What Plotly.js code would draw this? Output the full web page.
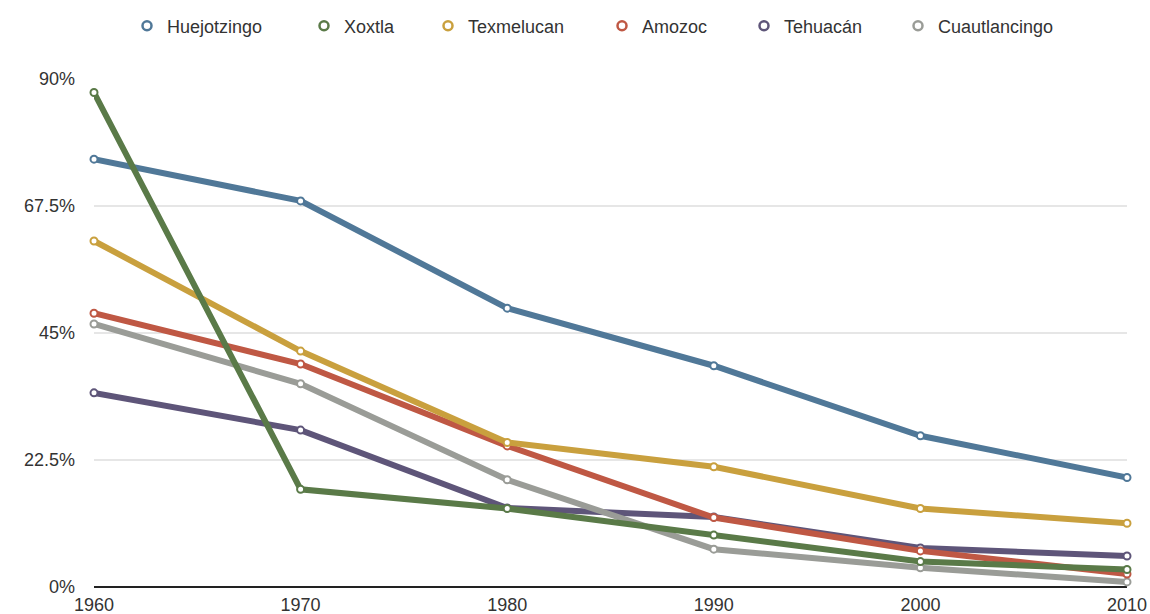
<!DOCTYPE html>
<html>
<head>
<meta charset="utf-8">
<script src="https://cdn.plot.ly/plotly-3.0.1.min.js"></script>
<style>html,body{margin:0;padding:0;background:#fff;}#chart{width:1150px;height:614px;}</style>
</head>
<body>
<div id="chart"></div>
<script>
var years = [1960, 1970, 1980, 1990, 2000, 2010];
var names = ["Huejotzingo", "Xoxtla", "Texmelucan", "Amozoc", "Tehuacán", "Cuautlancingo"];
var huejotzingo   = [75.8, 68.4, 49.4, 39.2, 26.8, 19.4];
var xoxtla        = [87.6, 17.3, 13.9, 9.2, 4.5, 3.1];
var texmelucan    = [61.3, 41.8, 25.6, 21.3, 13.9, 11.3];
var amozoc        = [48.5, 39.5, 25.0, 12.3, 6.4, 2.3];
var tehuacan      = [34.4, 27.8, 14.0, 12.4, 6.9, 5.5];
var cuautlancingo = [46.6, 36.0, 19.0, 6.7, 3.4, 0.9];
var yTickVals = [0, 22.5, 45, 67.5, 90];
var yTickText = ["0%", "22.5%", "45%", "67.5%", "90%"];

var series = [huejotzingo, xoxtla, texmelucan, amozoc, tehuacan, cuautlancingo];
var colors = ["#507898", "#5a7a48", "#c9a03e", "#bf5844", "#5e5579", "#9a9c97"];
var drawOrder = [4, 5, 3, 2, 0, 1];
var legendMarkerX = [147, 324, 448, 622, 764, 918];

var traces = [];
drawOrder.forEach(function (i) {
  traces.push({
    x: years, y: series[i], name: names[i], type: "scatter", mode: "lines+markers",
    showlegend: false, cliponaxis: false,
    line: {color: colors[i], width: 6},
    marker: {symbol: "circle", size: 7, color: "#ffffff", line: {color: colors[i], width: 2}},
    hoverinfo: "x+y+name"
  });
});

var layout = {
  width: 1150, height: 614,
  margin: {l: 94, r: 23, t: 79, b: 27, autoexpand: false},
  paper_bgcolor: "#ffffff", plot_bgcolor: "#ffffff",
  font: {family: "Liberation Sans, Arial, sans-serif", size: 18, color: "#333333"},
  showlegend: true,
  xaxis: {range: [1960, 2010], tickvals: years, ticks: "", showgrid: false, zeroline: false,
          showline: false, fixedrange: true, ticklabelstandoff: 5,
          tickfont: {size: 18, color: "#333333"}},
  yaxis: {range: [0, 90], tickvals: yTickVals, ticktext: yTickText, ticks: "",
          showgrid: true, gridcolor: "#e6e6e6", gridwidth: 1.5,
          zeroline: true, zerolinecolor: "#222222", zerolinewidth: 2,
          showline: false, ticklabelstandoff: 18, fixedrange: true,
          tickfont: {size: 18, color: "#333333"}}
};

names.forEach(function (n, i) {
  var key = i === 0 ? "legend" : "legend" + (i + 1);
  traces.push({
    x: [null], y: [null], name: n, type: "scatter", mode: "markers", showlegend: true,
    legend: key,
    marker: {symbol: "circle", size: 9, color: "#ffffff", line: {color: colors[i], width: 2.5}}
  });
  layout[key] = {
    orientation: "h", xref: "container", yref: "container",
    x: (legendMarkerX[i] - 20) / 1150, xanchor: "left",
    y: 1 - 26 / 614, yanchor: "middle",
    bgcolor: "rgba(0,0,0,0)", borderwidth: 0, itemwidth: 30,
    font: {size: 18, color: "#333333"}
  };
});

Plotly.newPlot("chart", traces, layout, {displayModeBar: false, staticPlot: true});
</script>
</body>
</html>
